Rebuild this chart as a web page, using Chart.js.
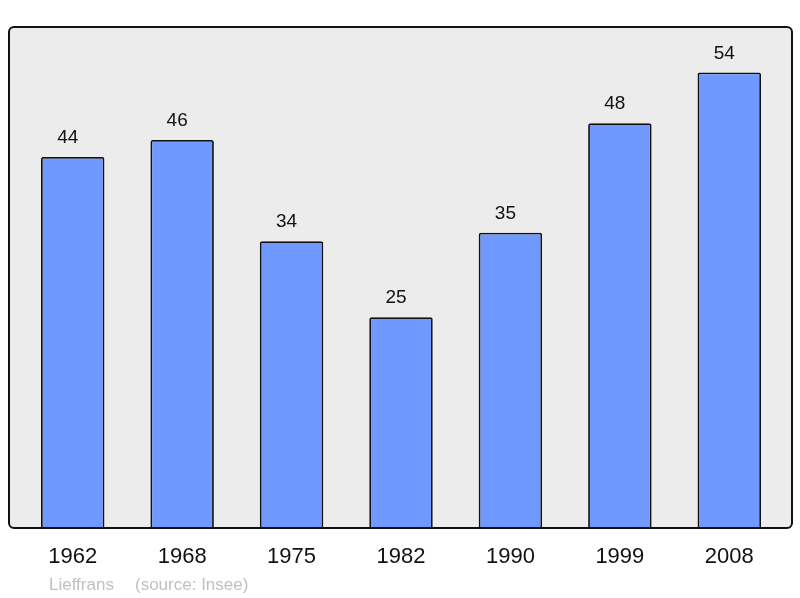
<!DOCTYPE html>
<html>
<head>
<meta charset="utf-8">
<script src="https://cdn.jsdelivr.net/npm/chart.js@4/dist/chart.umd.min.js"></script>
<style>
  html, body { margin: 0; padding: 0; background: #fff; }
  #wrap { width: 800px; height: 598px; }
</style>
</head>
<body>
<div id="wrap"><canvas id="chart"></canvas></div>
<script>
const years = ['1962', '1968', '1975', '1982', '1990', '1999', '2008'];
const population = [44, 46, 34, 25, 35, 48, 54];
const yMax = 59.4;

const FONT = '"Liberation Sans", Arial, sans-serif';

// grey box behind the bars, black frame on top
const framePlugin = {
  id: 'frame',
  beforeDatasetsDraw(chart) {
    const a = chart.chartArea;
    const ctx = chart.ctx;
    ctx.save();
    ctx.beginPath();
    ctx.roundRect(a.left - 9, a.top, a.right - a.left + 17, a.bottom - a.top, 5);
    ctx.fillStyle = '#ececec';
    ctx.fill();
    ctx.restore();
  },
  afterDatasetsDraw(chart) {
    const a = chart.chartArea;
    const ctx = chart.ctx;
    ctx.save();
    ctx.beginPath();
    ctx.roundRect(a.left - 9, a.top, a.right - a.left + 17, a.bottom - a.top, 5);
    ctx.lineWidth = 2;
    ctx.strokeStyle = '#111';
    ctx.stroke();

    // values above bars (slightly left of bar centre, as in the original)
    const meta = chart.getDatasetMeta(0);
    ctx.fillStyle = '#111';
    ctx.font = '19px ' + FONT;
    ctx.textAlign = 'center';
    ctx.textBaseline = 'alphabetic';
    meta.data.forEach((bar, i) => {
      ctx.fillText(population[i], bar.x - 5, bar.y - 14);
    });

    // footer
    ctx.fillStyle = '#c0c0c0';
    ctx.font = '17px ' + FONT;
    ctx.textAlign = 'left';
    ctx.fillText('Lieffrans', 49, 590);
    ctx.fillText('(source: Insee)', 135, 590);
    ctx.restore();
  }
};

new Chart(document.getElementById('chart'), {
  type: 'bar',
  data: {
    labels: years,
    datasets: [{
      data: population,
      backgroundColor: '#7099ff',
      borderColor: '#111',
      borderWidth: 1.8,
      borderRadius: 2,
      borderSkipped: 'start',
      barPercentage: 0.58,
      categoryPercentage: 1
    }]
  },
  options: {
    responsive: true,
    maintainAspectRatio: false,
    animation: false,
    layout: { padding: { left: 18, right: 16, top: 27, bottom: 0 } },
    plugins: { legend: { display: false }, tooltip: { enabled: false } },
    scales: {
      x: {
        grid: { display: false, drawTicks: false },
        border: { display: false },
        ticks: { color: '#111', font: { family: FONT, size: 22 }, padding: 16 },
        afterFit(scale) { scale.height = 70; }
      },
      y: {
        display: false,
        min: 0,
        max: yMax
      }
    }
  },
  plugins: [framePlugin]
});
</script>
</body>
</html>
